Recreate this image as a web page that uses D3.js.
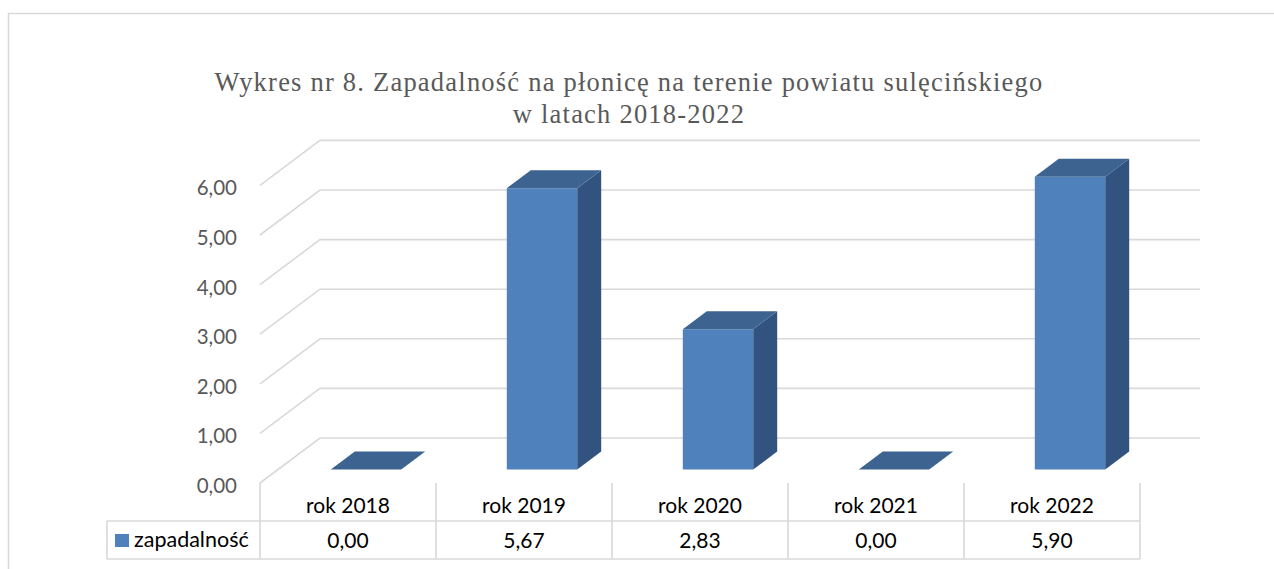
<!DOCTYPE html>
<html>
<head>
<meta charset="utf-8">
<script src="https://cdn.jsdelivr.net/npm/d3@7"></script>
<style>
  html, body { margin: 0; padding: 0; background: #fff; }
  svg { display: block; }
</style>
</head>
<body>
<svg id="chart" width="1274" height="569"></svg>
<script>
const titleLines = ["Wykres nr 8. Zapadalność na płonicę na terenie powiatu sulęcińskiego", "w latach 2018-2022"];
const categories = ["rok 2018", "rok 2019", "rok 2020", "rok 2021", "rok 2022"];
const seriesName = "zapadalność";
const values = [0.00, 5.67, 2.83, 0.00, 5.90];
const yTicks = [0, 1, 2, 3, 4, 5, 6];

const svg = d3.select("#chart");
const fmt = v => d3.format(".2f")(v).replace(".", ",");

// geometry
const frontLeft = 260, frontRight = 1140, floorY = 483;
const depthX = 60, depthY = -45;
const barD0 = 0.3, barD1 = 0.7;

const xCol = d3.scaleBand().domain(categories).range([frontLeft, frontRight]).padding(0);
const xBar = d3.scaleBand().domain(categories).range([frontLeft, frontRight]).paddingInner(0.6).paddingOuter(0.3);
const y = d3.scaleLinear().domain([0, 6]).range([floorY, floorY - 297.6]);

const proj = (x, v, d) => [x + depthX * d, y(v) + depthY * d];

// outer border
svg.append("rect").attr("x", 8.5).attr("y", 13.5).attr("width", 1300).attr("height", 600)
  .attr("fill", "none").attr("stroke", "#d9d9d9").attr("stroke-width", 1.5);

// title
svg.append("text").attr("x", 629).attr("y", 91).attr("text-anchor", "middle")
  .attr("font-family", "'Liberation Serif', 'Times New Roman', serif").attr("font-size", 26.5)
  .attr("letter-spacing", 1.22)
  .attr("fill", "#595959")
  .selectAll("tspan").data(titleLines).join("tspan")
  .attr("x", 629).attr("dy", (d, i) => i === 0 ? 0 : 32).text(d => d);

// gridlines: left wall diagonal + back wall horizontal
const grid = svg.append("g").attr("stroke", "#d9d9d9").attr("stroke-width", 1.6).attr("fill", "none");
grid.selectAll("path").data(yTicks).join("path")
  .attr("d", v => {
    const a = proj(frontLeft, v, 0), b = proj(frontLeft, v, 1), c = proj(frontRight, v, 1);
    return `M${a[0]},${a[1]}L${b[0]},${b[1]}L${c[0]},${c[1]}`;
  });

// y labels
svg.append("g").selectAll("text").data(yTicks).join("text")
  .attr("x", 237).attr("y", v => y(v) + 2)
  .attr("text-anchor", "end").attr("dominant-baseline", "central")
  .attr("font-family", "Lato, 'Open Sans', sans-serif").attr("font-size", 20.5)
  .attr("fill", "#595959").text(fmt);

// bars
const bars = svg.append("g").selectAll("g").data(categories.map((c, i) => ({c, v: values[i]}))).join("g");
const poly = pts => "M" + pts.map(p => p.join(",")).join("L") + "Z";
bars.append("path") // side
  .attr("fill", "#325380")
  .attr("d", d => {
    const xr = xBar(d.c) + xBar.bandwidth();
    return poly([proj(xr, 0, barD0), proj(xr, 0, barD1), proj(xr, d.v, barD1), proj(xr, d.v, barD0)]);
  });
bars.append("path") // front
  .attr("fill", "#4f81bd")
  .attr("d", d => {
    const xl = xBar(d.c), xr = xl + xBar.bandwidth();
    return poly([proj(xl, 0, barD0), proj(xr, 0, barD0), proj(xr, d.v, barD0), proj(xl, d.v, barD0)]);
  });
bars.append("path") // top
  .attr("fill", "#3d6391")
  .attr("d", d => {
    const xl = xBar(d.c), xr = xl + xBar.bandwidth();
    return poly([proj(xl, d.v, barD0), proj(xr, d.v, barD0), proj(xr, d.v, barD1), proj(xl, d.v, barD1)]);
  });

// data table
const tbl = svg.append("g");
const rowTop = 483, rowMid = 521, rowBot = 559, tableLeft = 107;
const tl = tbl.append("g").attr("stroke", "#d9d9d9").attr("stroke-width", 1.6);
const bounds = categories.map(c => xCol(c)).concat([frontRight]);
tl.selectAll("line.v").data(bounds).join("line").attr("class", "v")
  .attr("x1", d => d).attr("x2", d => d).attr("y1", rowTop).attr("y2", rowBot);
tl.append("line").attr("x1", tableLeft).attr("x2", tableLeft).attr("y1", rowMid).attr("y2", rowBot);
tl.append("line").attr("x1", tableLeft).attr("x2", frontRight).attr("y1", rowMid).attr("y2", rowMid);
tl.append("line").attr("x1", tableLeft).attr("x2", frontRight).attr("y1", rowBot).attr("y2", rowBot);

const tf = "Lato, 'Open Sans', sans-serif";
tbl.selectAll("text.cat").data(categories).join("text").attr("class", "cat")
  .attr("x", c => xCol(c) + xCol.bandwidth() / 2).attr("y", 513)
  .attr("text-anchor", "middle").attr("font-family", tf).attr("font-size", 21).attr("fill", "#000")
  .text(c => c);
tbl.selectAll("text.val").data(values).join("text").attr("class", "val")
  .attr("x", (v, i) => xCol(categories[i]) + xCol.bandwidth() / 2).attr("y", 548)
  .attr("text-anchor", "middle").attr("font-family", tf).attr("font-size", 21).attr("fill", "#000")
  .text(fmt);

// legend key in table
tbl.append("rect").attr("x", 115).attr("y", 534).attr("width", 14).attr("height", 13).attr("fill", "#4f81bd");
tbl.append("text").attr("x", 134).attr("y", 547).attr("font-family", tf).attr("font-size", 21.5)
  .attr("fill", "#000").text(seriesName);
</script>
</body>
</html>
